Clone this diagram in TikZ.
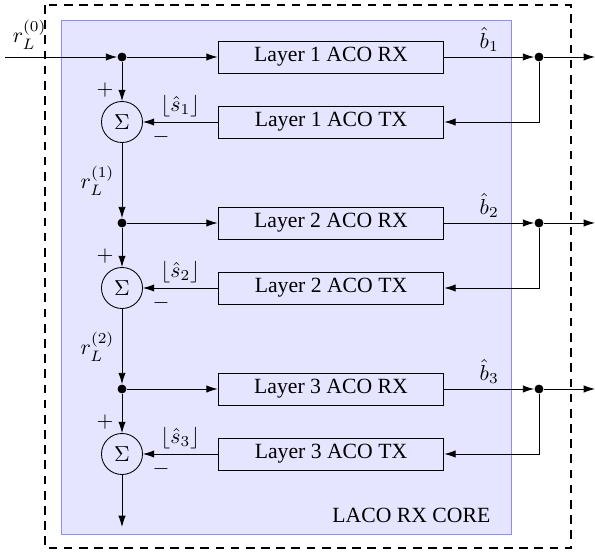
\documentclass[tikz,border=0pt]{standalone}
\usepackage{amsmath,amssymb}
\usepackage{fontspec}
\setmainfont{Liberation Serif}
\usepackage{xcolor}
\usepackage{tikz}
\usetikzlibrary{arrows.meta,positioning,calc}

\begin{document}
\begin{tikzpicture}[x=0.0162cm,y=-0.0162cm,
  >={Latex[length=5.2pt,width=3.4pt]},
  block/.style={draw,minimum width=3.66cm,minimum height=0.52cm,inner sep=0pt},
  summer/.style={draw,circle,minimum size=0.665cm,inner sep=0pt},
  junction/.style={circle,fill,inner sep=0pt,minimum size=4.1pt},
  sign/.style={inner sep=0pt},
  tag/.style={inner sep=2.2pt}]
  \useasboundingbox (0,0) rectangle (595,555);
  \draw[line width=0.9pt,dash pattern=on 4pt off 3pt] (45,5) rectangle (571,548);
  \draw[blue!45,fill=blue!10] (61,20) rectangle (511,534);
  \node[anchor=base east] (core) at (498,523) {LACO RX CORE};
  % one layer per row
  \foreach \i in {1,2,3} {
    \pgfmathsetmacro{\yy}{57+166*(\i-1)}
    \node[junction] (split\i) at (122,\yy) {};
    \node[block] (rx\i) at (331,\yy) {Layer \i\ ACO RX};
    \node[block] (tx\i) at (331,\yy+65) {Layer \i\ ACO TX};
    \node[summer] (sum\i) at (122,\yy+65) {$\Sigma$};
    \node[sign] (plus\i) at (105,\yy+33) {$+$};
    \node[sign] (minus\i) at (161,\yy+80) {$-$};
    \node[junction] (out\i) at (539,\yy) {};
    \coordinate (end\i) at (595,\yy);
    \draw[->] (split\i) -- (rx\i);
    \draw[->] (rx\i) -- node[tag,above]{$\hat{b}_\i$} (out\i);
    \draw[->] (out\i) -- (end\i);
    \draw[->] (out\i) |- (tx\i);
    \draw[->] (tx\i) -- node[tag,above]{$\lfloor\hat{s}_\i\rfloor$} (sum\i);
    \draw[->] (split\i) -- (sum\i);
  }
  \foreach \i/\j in {1/2,2/3}
    \draw[->] (sum\i) -- node[left]{$r_L^{(\i)}$} (split\j);
  \coordinate (in) at (5,57);
  \coordinate (bottom) at (122,527);
  \draw[->] (in) -- node[pos=0.22,above]{$r_L^{(0)}$} (split1);
  \draw[->] (sum3) -- (bottom);
\end{tikzpicture}
\end{document}
